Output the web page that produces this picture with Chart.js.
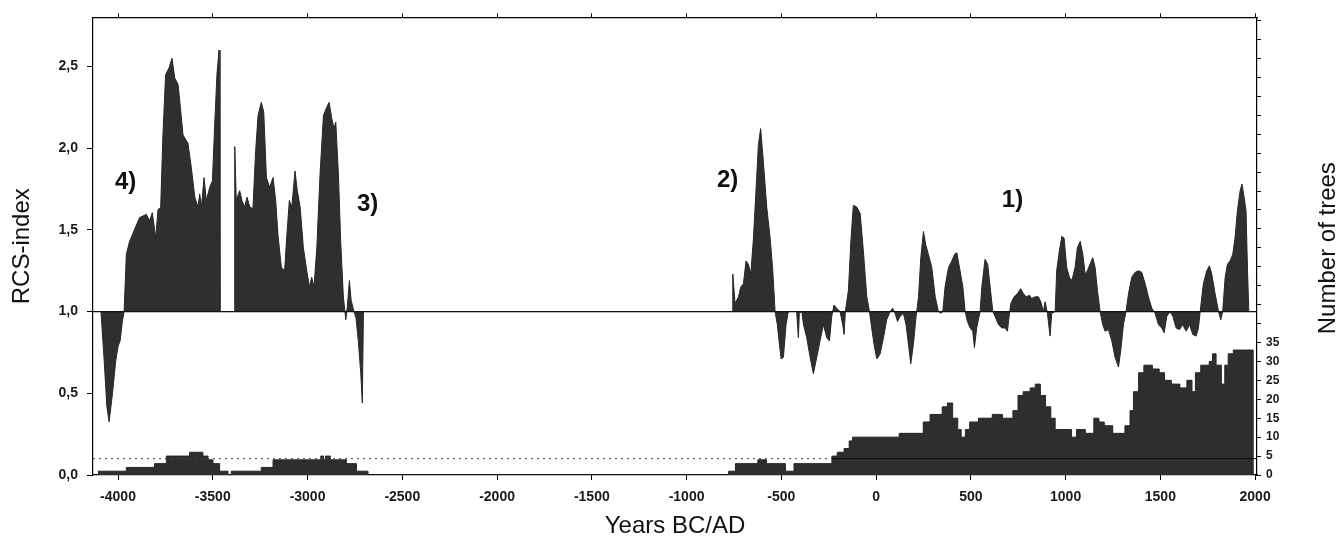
<!DOCTYPE html>
<html>
<head>
<meta charset="utf-8">
<script src="https://cdn.jsdelivr.net/npm/chart.js@4.4.1/dist/chart.umd.min.js"></script>
<style>
  html, body { margin: 0; padding: 0; background: #fff; }
</style>
</head>
<body>
<canvas id="chart" width="1341" height="544"></canvas>
<script>
// ── data ──
// RCS-index, [year, value]
const rcsEarly = [
  [-4090, 1.0], [-4073, 0.70], [-4059, 0.42], [-4047, 0.325], [-4029, 0.50], [-4012, 0.70],
  [-3999, 0.79], [-3989, 0.82], [-3977, 0.94], [-3968, 1.0], [-3956, 1.35], [-3939, 1.43],
  [-3921, 1.48], [-3903, 1.53], [-3886, 1.575], [-3868, 1.585], [-3851, 1.595], [-3833, 1.555],
  [-3819, 1.605], [-3801, 1.45], [-3789, 1.625], [-3775, 1.636], [-3763, 2.08], [-3749, 2.45],
  [-3731, 2.49], [-3715, 2.55], [-3701, 2.43], [-3683, 2.39], [-3671, 2.25], [-3657, 2.08],
  [-3631, 2.03], [-3613, 1.88], [-3595, 1.70], [-3578, 1.64], [-3569, 1.72], [-3560, 1.64],
  [-3546, 1.82], [-3534, 1.68], [-3516, 1.76], [-3502, 1.80], [-3490, 2.14], [-3478, 2.45],
  [-3467, 2.60], [-3462, 1.0], [-3386, 1.0], [-3384, 2.01], [-3376, 1.68], [-3358, 1.74],
  [-3346, 1.68], [-3332, 1.64], [-3319, 1.70], [-3305, 1.64], [-3288, 1.63], [-3274, 1.98],
  [-3261, 2.20], [-3244, 2.28], [-3231, 2.22], [-3217, 1.82], [-3200, 1.76], [-3182, 1.82],
  [-3168, 1.68], [-3156, 1.47], [-3138, 1.27], [-3121, 1.25], [-3110, 1.45], [-3096, 1.68],
  [-3083, 1.64], [-3066, 1.86], [-3054, 1.74], [-3039, 1.64], [-3022, 1.39], [-3004, 1.25],
  [-2990, 1.15], [-2978, 1.21], [-2966, 1.15], [-2951, 1.39], [-2934, 1.84], [-2916, 2.20],
  [-2899, 2.25], [-2886, 2.28], [-2872, 2.18], [-2860, 2.12], [-2851, 2.16], [-2837, 1.84],
  [-2825, 1.43], [-2811, 1.09], [-2798, 0.95], [-2790, 1.03], [-2779, 1.19], [-2770, 1.07],
  [-2755, 1.0], [-2744, 0.96], [-2732, 0.82], [-2719, 0.62], [-2711, 0.44], [-2705, 1.0],
];
const rcsLate = [
  [-757, 1.0], [-756, 1.23], [-744, 1.05], [-726, 1.09], [-714, 1.15], [-700, 1.17],
  [-686, 1.31], [-674, 1.29], [-661, 1.23], [-647, 1.45], [-630, 1.82], [-621, 2.02],
  [-609, 2.12], [-595, 1.92], [-577, 1.64], [-559, 1.45], [-545, 1.25], [-533, 1.0],
  [-521, 0.92], [-510, 0.80], [-501, 0.71], [-489, 0.72], [-475, 0.92], [-463, 1.0],
  [-419, 1.0], [-410, 0.84], [-405, 0.99], [-392, 1.0], [-383, 0.92], [-366, 0.84],
  [-348, 0.72], [-331, 0.62], [-313, 0.72], [-296, 0.82], [-278, 0.92], [-260, 0.84],
  [-246, 0.82], [-234, 0.97], [-222, 1.04], [-208, 1.02], [-190, 1.0], [-176, 0.92],
  [-169, 0.86], [-162, 1.0], [-146, 1.13], [-132, 1.45], [-120, 1.65], [-102, 1.64],
  [-84, 1.60], [-67, 1.37], [-49, 1.09], [-35, 1.0], [-23, 0.90], [-11, 0.80],
  [4, 0.71], [21, 0.74], [39, 0.84], [56, 0.95], [74, 1.0], [88, 1.02],
  [100, 0.99], [113, 0.94], [127, 0.97], [144, 0.99], [158, 0.92], [171, 0.80],
  [183, 0.68], [197, 0.80], [211, 0.97], [224, 1.09], [236, 1.33], [250, 1.49],
  [262, 1.41], [276, 1.35], [294, 1.27], [312, 1.09], [329, 1.0], [342, 0.99],
  [352, 1.0], [364, 1.15], [382, 1.27], [400, 1.31], [414, 1.35], [426, 1.36],
  [440, 1.27], [458, 1.15], [470, 1.0], [482, 0.94], [496, 0.90], [510, 0.88],
  [519, 0.78], [531, 0.90], [549, 1.0], [558, 1.15], [575, 1.32], [589, 1.29],
  [602, 1.15], [616, 1.0], [628, 0.97], [646, 0.92], [663, 0.90], [681, 0.90],
  [693, 0.88], [704, 0.99], [711, 1.05], [728, 1.09], [746, 1.11], [763, 1.14],
  [777, 1.11], [792, 1.09], [809, 1.10], [821, 1.08], [839, 1.09], [857, 1.09],
  [869, 1.06], [883, 1.0], [892, 1.06], [904, 0.99], [918, 0.85], [927, 0.99],
  [945, 1.0], [953, 1.25], [967, 1.37], [980, 1.46], [992, 1.45], [1006, 1.27],
  [1020, 1.21], [1033, 1.19], [1050, 1.27], [1062, 1.39], [1077, 1.43], [1091, 1.35],
  [1103, 1.23], [1115, 1.25], [1129, 1.29], [1143, 1.33], [1156, 1.27], [1168, 1.13],
  [1182, 1.0], [1196, 0.92], [1208, 0.88], [1226, 0.89], [1244, 0.82], [1261, 0.72],
  [1279, 0.66], [1291, 0.76], [1305, 0.92], [1319, 1.0], [1332, 1.11], [1349, 1.21],
  [1367, 1.24], [1384, 1.25], [1402, 1.24], [1420, 1.17], [1437, 1.09], [1455, 1.02],
  [1472, 0.99], [1490, 0.92], [1507, 0.90], [1520, 0.87], [1534, 0.97], [1551, 1.0],
  [1566, 0.97], [1583, 0.90], [1601, 0.89], [1618, 0.92], [1636, 0.88], [1654, 0.92],
  [1671, 0.86], [1689, 0.85], [1701, 0.90], [1713, 1.03], [1727, 1.17], [1745, 1.25],
  [1759, 1.28], [1771, 1.23], [1789, 1.11], [1807, 1.0], [1819, 0.95], [1829, 1.0],
  [1842, 1.21], [1854, 1.29], [1868, 1.31], [1882, 1.35], [1894, 1.45], [1907, 1.62],
  [1921, 1.74], [1931, 1.78], [1942, 1.70], [1952, 1.62], [1960, 1.25], [1967, 1.0],
];

// number of trees, [year where the step starts, count]
const treesEarly = [
  [-4106, 1], [-3956, 2], [-3807, 3], [-3745, 5], [-3622, 6], [-3552, 5], [-3525, 4],
  [-3499, 3], [-3464, 1], [-3420, 0], [-3402, 1], [-3244, 2], [-3182, 4], [-2930, 5],
  [-2915, 4], [-2905, 5], [-2880, 4], [-2795, 3], [-2742, 1], [-2681, 0],
];
const treesLate = [
  [-778, 1], [-742, 3], [-624, 4], [-578, 3], [-478, 1], [-433, 3], [-233, 5], [-205, 6],
  [-169, 7], [-142, 9], [-124, 10], [122, 11], [249, 14], [285, 16], [349, 18], [376, 19],
  [404, 15], [431, 12], [449, 10], [471, 12], [494, 14], [540, 15], [613, 16], [667, 15],
  [722, 17], [749, 21], [776, 22], [813, 23], [840, 24], [867, 21], [894, 18], [922, 15],
  [945, 12], [1031, 10], [1058, 12], [1104, 11], [1149, 15], [1176, 14], [1204, 13],
  [1249, 11], [1313, 13], [1340, 17], [1358, 22], [1385, 27], [1413, 29], [1458, 28],
  [1494, 27], [1522, 25], [1558, 24], [1603, 23], [1640, 25], [1667, 22], [1685, 27],
  [1713, 29], [1758, 30], [1775, 32], [1794, 29], [1822, 24], [1840, 29], [1858, 32],
  [1885, 33], [1990, 0],
];

const yearTicks = [-4000, -3500, -3000, -2500, -2000, -1500, -1000, -500, 0, 500, 1000, 1500, 2000];
const rcsTicks = [0, 0.5, 1.0, 1.5, 2.0, 2.5];
const treeLabelMax = 35;

const periodLabels = ["4)", "3)", "2)", "1)"];
const periodYears = [-3960, -2683, -783, 720];
const periodRcs = [1.79, 1.655, 1.80, 1.68];

const rcsBaseline = 1.0;
const treeThreshold = 0.1; // dotted line, in RCS units

// ── scales ──
const X_MIN = -4132, X_MAX = 2010;
const RCS_MAX = 2.8;
const TREES_PER_RCS = 43.16; // right axis: 35 trees span ~0.81 RCS units
const TREE_MAX = RCS_MAX * TREES_PER_RCS;

// the threshold line turns solid where the late tree count first reaches 5
const solidFrom = treesLate.find(([, n]) => n >= 5)[0];

const FONT = '"Liberation Sans", Arial, sans-serif';
Chart.defaults.font.family = FONT;
Chart.defaults.color = "#111";

const toPoints = (pairs) => pairs.map(([x, y]) => ({ x, y }));

const overlayText = {
  id: "overlayText",
  afterDraw(chart) {
    const { ctx, chartArea } = chart;
    const x = chart.scales.x;
    const y = chart.scales.y;
    ctx.save();
    ctx.fillStyle = "#111";
    ctx.textAlign = "center";
    ctx.textBaseline = "middle";
    ctx.font = "bold 24px " + FONT;
    periodLabels.forEach((t, i) => {
      ctx.fillText(t, x.getPixelForValue(periodYears[i]), y.getPixelForValue(periodRcs[i]));
    });
    // right title reads bottom-to-top, like the left one
    ctx.font = "24px " + FONT;
    ctx.translate(chart.width - 13, (chartArea.top + chartArea.bottom) / 2 + 2);
    ctx.rotate(-Math.PI / 2);
    ctx.fillText("Number of trees", 0, 0);
    ctx.restore();
  },
};

const axisGrid = (len) => ({
  display: true,
  drawOnChartArea: false,
  drawTicks: true,
  tickLength: len,
  color: "#000",
  lineWidth: 1,
});
const axisBorder = { display: true, color: "#000", width: 1.2 };

new Chart(document.getElementById("chart"), {
  type: "line",
  data: {
    datasets: [
      {
        label: "baseline",
        data: toPoints([[X_MIN, rcsBaseline], [X_MAX, rcsBaseline]]),
        borderColor: "#111",
        borderWidth: 1.3,
        pointRadius: 0,
        fill: false,
        yAxisID: "y",
      },
      {
        label: "threshold",
        data: toPoints([[X_MIN, treeThreshold], [solidFrom, treeThreshold], [X_MAX, treeThreshold]]),
        borderColor: "#444",
        borderWidth: 1,
        pointRadius: 0,
        fill: false,
        segment: {
          borderDash: (c) => (c.p0.parsed.x >= solidFrom ? [] : [2, 4]),
          borderColor: (c) => (c.p0.parsed.x >= solidFrom ? "#0d0d0d" : "#444"),
        },
        yAxisID: "y",
      },
      {
        label: "RCS-index",
        data: toPoints(rcsEarly.concat(rcsLate)),
        borderColor: "#262626",
        borderWidth: 1,
        backgroundColor: "#2f2f2f",
        pointRadius: 0,
        tension: 0,
        fill: { value: rcsBaseline },
        yAxisID: "y",
      },
      {
        label: "Number of trees",
        data: toPoints(treesEarly.concat(treesLate)),
        borderColor: "#262626",
        borderWidth: 1,
        backgroundColor: "#2e2e2e",
        pointRadius: 0,
        stepped: true,
        fill: "origin",
        yAxisID: "y2",
      },
    ],
  },
  options: {
    responsive: false,
    animation: false,
    devicePixelRatio: 1,
    layout: { padding: 0 },
    plugins: { legend: { display: false }, tooltip: { enabled: false } },
    scales: {
      x: {
        type: "linear",
        position: "bottom",
        min: X_MIN,
        max: X_MAX,
        afterBuildTicks: (s) => { s.ticks = yearTicks.map((v) => ({ value: v })); },
        ticks: { font: { size: 14, weight: "bold" }, color: "#1a1a1a", padding: 9, maxRotation: 0,
                 callback: (v) => String(v) },
        grid: axisGrid(5),
        border: axisBorder,
        title: { display: true, text: "Years BC/AD", font: { size: 24 }, color: "#111",
                 padding: { top: 0, bottom: 3 } },
        afterFit: (s) => { s.height = 69; },
      },
      x2: {
        type: "linear",
        position: "top",
        min: X_MIN,
        max: X_MAX,
        afterBuildTicks: (s) => { s.ticks = yearTicks.map((v) => ({ value: v })); },
        ticks: { display: false },
        grid: axisGrid(4),
        border: axisBorder,
        afterFit: (s) => { s.height = 16; },
      },
      y: {
        position: "left",
        min: 0,
        max: RCS_MAX,
        afterBuildTicks: (s) => { s.ticks = rcsTicks.map((v) => ({ value: v })); },
        ticks: { font: { size: 14, weight: "bold" }, color: "#1a1a1a", padding: 9,
                 callback: (v) => v.toFixed(1).replace(".", ",") },
        grid: axisGrid(6),
        border: axisBorder,
        title: { display: true, text: "RCS-index", font: { size: 24 }, color: "#111",
                 padding: { top: 8, bottom: 0 } },
        afterFit: (s) => { s.width = 93; },
      },
      y2: {
        position: "right",
        min: 0,
        max: TREE_MAX,
        afterBuildTicks: (s) => {
          const t = [];
          for (let v = 0; v <= TREE_MAX; v += 5) t.push({ value: v });
          s.ticks = t;
        },
        ticks: { font: { size: 12, weight: "bold" }, color: "#1a1a1a", padding: 5,
                 callback: (v) => (v <= treeLabelMax ? String(v) : "") },
        grid: axisGrid(4),
        border: axisBorder,
        afterFit: (s) => { s.width = 84; },
      },
    },
  },
  plugins: [overlayText],
});
</script>
</body>
</html>
